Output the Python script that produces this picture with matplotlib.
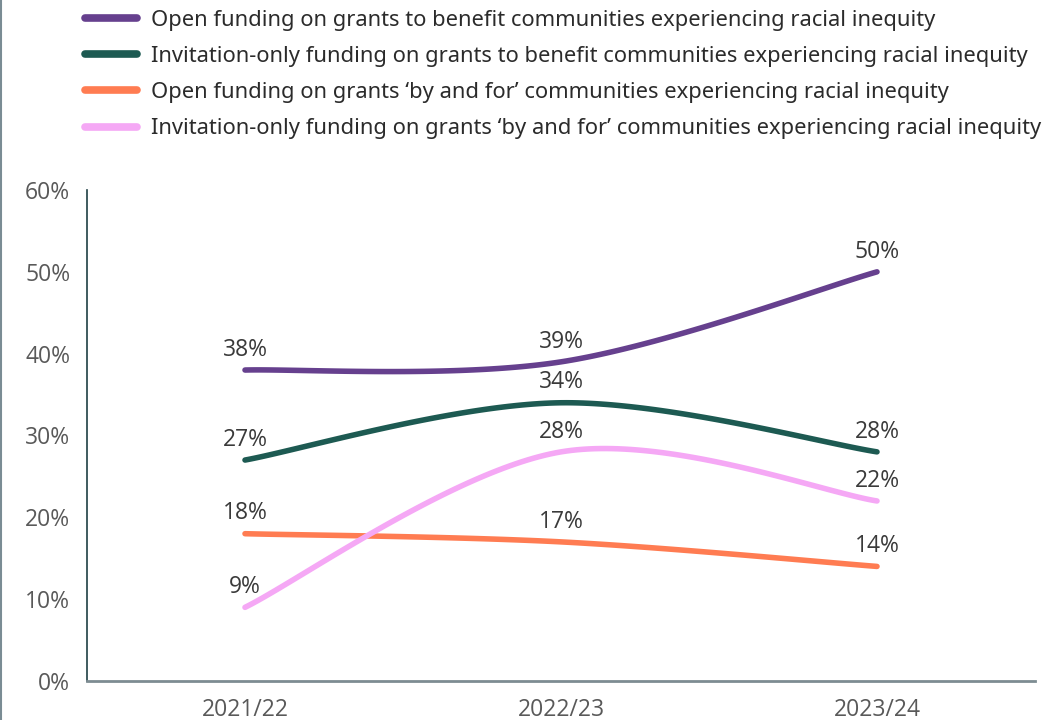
"""
Share of funding on grants for communities experiencing racial inequity,
open vs invitation-only programmes, 2021/22 to 2023/24.
"""

import matplotlib
matplotlib.use("Agg")
import matplotlib.pyplot as plt
from matplotlib.lines import Line2D
import numpy as np

years = ["2021/22", "2022/23", "2023/24"]

open_benefit = [38, 39, 50]
invite_benefit = [27, 34, 28]
open_by_and_for = [18, 17, 14]
invite_by_and_for = [9, 28, 22]

series_labels = [
    "Open funding on grants to benefit communities experiencing racial inequity",
    "Invitation-only funding on grants to benefit communities experiencing racial inequity",
    "Open funding on grants \u2018by and for\u2019 communities experiencing racial inequity",
    "Invitation-only funding on grants \u2018by and for\u2019 communities experiencing racial inequity",
]
series_values = [open_benefit, invite_benefit, open_by_and_for, invite_by_and_for]
colors = ["#66408E", "#1D5A52", "#FF7C52", "#F5A8F5"]

y_ticks = [0, 10, 20, 30, 40, 50, 60]


def smooth(xs, ys, n=60):
    """Catmull-Rom style cubic Bezier through the points (spreadsheet 'smoothed line')."""
    p = np.column_stack([xs, ys]).astype(float)
    p = np.vstack([p[:1], p, p[-1:]])
    out = []
    for i in range(1, len(p) - 2):
        p0, p1, p2, p3 = p[i - 1], p[i], p[i + 1], p[i + 2]
        c1 = p1 + (p2 - p0) / 6
        c2 = p2 - (p3 - p1) / 6
        t = np.linspace(0, 1, n)[:, None]
        seg = ((1 - t) ** 3) * p1 + 3 * ((1 - t) ** 2) * t * c1 \
            + 3 * (1 - t) * t ** 2 * c2 + t ** 3 * p2
        out.append(seg if i == 1 else seg[1:])
    seg = np.vstack(out)
    return seg[:, 0], seg[:, 1]


fig = plt.figure(figsize=(10.62, 7.2), dpi=100)
ax = fig.add_axes([87 / 1062, 1 - 681 / 720, (1035 - 87) / 1062, (681 - 190) / 720])

x = np.arange(len(years))
for vals, col in zip(series_values, colors):
    sx, sy = smooth(x, vals)
    ax.plot(sx, sy, color=col, linewidth=4, solid_capstyle="round")
    for xi, v in zip(x, vals):
        ax.annotate(f"{v}%", (xi, v), xytext=(0, 6), textcoords="offset points",
                    ha="center", va="bottom", fontsize=16.5, color="#3a3a3a",
                    family="Open Sans")

ax.set_xlim(-0.5, 2.5)
ax.set_ylim(0, 60)
ax.set_yticks(y_ticks)
ax.set_yticklabels([f"{t}%" for t in y_ticks])
ax.set_xticks(x)
ax.set_xticklabels(years)
ax.tick_params(length=0, labelsize=16.5, labelcolor="#595959")
ax.tick_params(axis="y", pad=12)
ax.tick_params(axis="x", pad=12)
for lab in ax.get_xticklabels() + ax.get_yticklabels():
    lab.set_family("Open Sans")

for side in ("top", "right"):
    ax.spines[side].set_visible(False)
ax.spines["left"].set_color("#1F3F44")
ax.spines["left"].set_linewidth(1.2)
ax.spines["bottom"].set_color("#7D8C92")
ax.spines["bottom"].set_linewidth(2)

handles = [Line2D([], [], color=c, linewidth=5.5, solid_capstyle="round") for c in colors]
fig.legend(handles, series_labels, loc="upper left", bbox_to_anchor=(76 / 1062, 1 - 1 / 720),
           frameon=False, handlelength=2.4, handletextpad=0.6, labelspacing=0.69,
           prop={"family": "Noto Sans", "size": 15.8}, labelcolor="#2b2b2b",
           borderaxespad=0.0)

# thin frame line at the left edge of the figure
fig.add_artist(Line2D([0.001, 0.001], [0, 1], transform=fig.transFigure,
                      color="#7A8C94", linewidth=1.5))

fig.savefig("out.png", dpi=100)
